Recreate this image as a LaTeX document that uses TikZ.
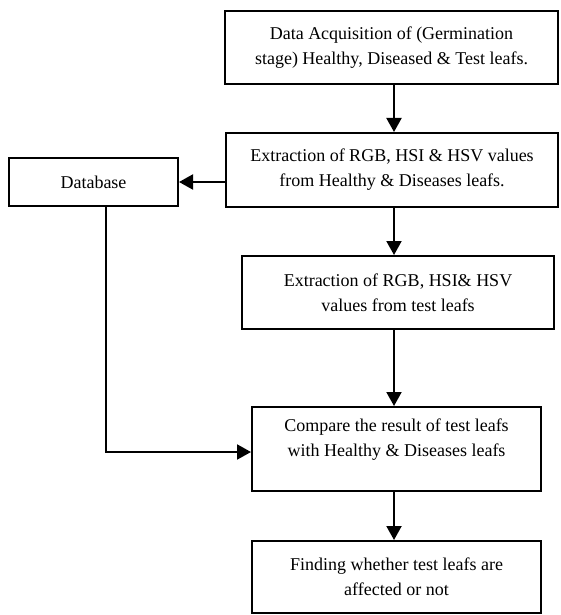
\documentclass[tikz,border=0pt]{standalone}
\usepackage{fontspec}
\setmainfont{Liberation Serif}
\usetikzlibrary{arrows.meta}
\begin{document}
\begin{tikzpicture}[x=1pt,y=1pt,
  box/.style={draw, line width=2pt, rectangle, inner sep=0pt, align=center,
    font=\fontsize{18}{25}\selectfont},
  txt/.style={inner sep=0pt, align=center, font=\fontsize{18}{25}\selectfont},
  arr/.style={line width=2pt, -{Triangle[length=14pt,width=15pt]}}]
\useasboundingbox (0,0) rectangle (560,-615);
\node[box, minimum width=333, minimum height=73] (b1) at (391.5,-47.5)
  {Data Acquisition of (Germination\\stage) Healthy, Diseased \& Test leafs.};
\node[box, minimum width=332, minimum height=74] (b2) at (392,-170)
  {Extraction of RGB, HSI \& HSV values\\from Healthy \& Diseases leafs.};
\node[box, minimum width=169, minimum height=48] (db) at (93.5,-182) {Database};
\node[box, minimum width=312, minimum height=73] (b3) at (398,-292.5)
  {Extraction of RGB, HSI\& HSV\\values from test leafs};
\node[box, minimum width=289, minimum height=84] (b4) at (396.5,-449) {};
\node[txt] (b4t) at (396.5,-440) {Compare the result of test leafs\\with Healthy \& Diseases leafs};
\node[box, minimum width=289, minimum height=72] (b5) at (396.5,-577)
  {Finding whether test leafs are\\affected or not};
\coordinate (col) at (394,0);
\coordinate (corner) at (106,-452);
\draw[arr] (b1.south -| col) -- (b2.north -| col);
\draw[arr] (b2.west |- db.east) -- (db.east);
\draw[arr] (b2.south -| col) -- (b3.north -| col);
\draw[arr] (b3.south -| col) -- (b4.north -| col);
\draw[arr] (b4.south -| col) -- (b5.north -| col);
\draw[arr] (db.south -| corner) -- (corner) -- (b4.west |- corner);
\end{tikzpicture}
\end{document}
